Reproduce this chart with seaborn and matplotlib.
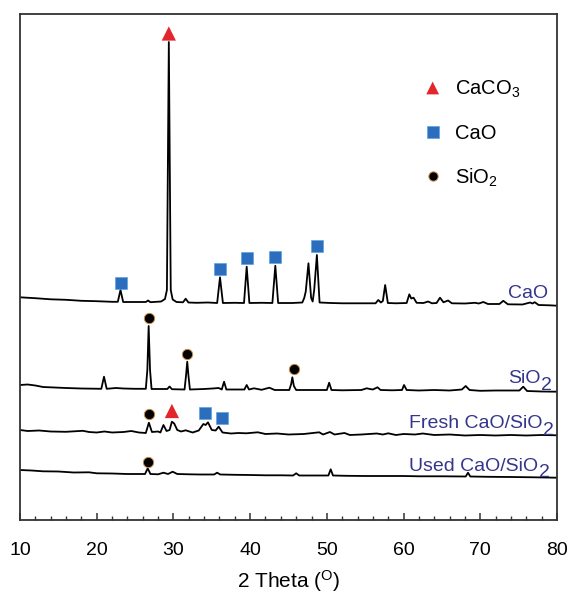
import matplotlib
matplotlib.use("Agg")
import matplotlib.pyplot as plt
from matplotlib.ticker import MultipleLocator
import seaborn as sns

# ---------------- data (2 theta in degrees, intensity in a.u.) ----------------
cao_x = [10, 12, 14, 16, 18, 20, 22, 22.75, 23.1, 23.45, 25, 26.4, 26.7, 27.0, 28.4, 28.9,
         29.15, 29.4, 29.65, 29.9, 30.4, 31.25, 31.6, 31.95, 33, 34.5, 35.7, 36.07, 36.45, 38,
         39.2, 39.55, 39.9, 41.5, 42.9, 43.28, 43.65, 45.5, 46.8, 47.05, 47.25, 47.6, 47.95,
         48.15, 48.35, 48.7, 49.05, 50.5, 52, 54, 56.35, 56.7, 57.05, 57.3, 57.6, 57.95, 59,
         60.4, 60.75, 61.0, 61.3, 61.7, 62.6, 63.2, 63.7, 64.3, 64.75, 65.2, 65.8, 66.3, 68,
         69.3, 69.8, 70.4, 71.0, 72.5, 73.0, 73.6, 75.5, 76.5, 76.8, 77.1, 77.6, 79, 80]
cao_y = [222.7, 221.8, 220.7, 220.2, 219.2, 218.8, 218.2, 218.2, 230, 218, 218, 218, 219.5, 217.8,
         218.5, 221, 230, 478, 230, 220.5, 218, 217.7, 221.3, 217.5, 217.2, 217.5, 217, 242.7, 217,
         217.2, 217, 253.3, 217, 217.2, 217, 254.3, 217, 217, 217.5, 222, 228.5, 256.7, 222,
         218.5, 230, 265, 217.5, 217, 216.7, 216.7, 216.7, 220, 217.5, 219, 235, 217, 216.7,
         217, 225.7, 221.5, 222.3, 217.2, 217, 218.5, 216.7, 217, 222.3, 217.7, 219.5, 216.7,
         216.5, 217.2, 216.5, 218, 216, 216, 219.2, 215.7, 215.5, 217.5, 216.5, 217.8, 215,
         214.7, 214.3]

sio2_x = [10, 11, 12, 13, 14.5, 16, 18, 20.6, 20.95, 21.3, 22.5, 23.5, 25, 26.4, 26.6, 26.77,
          26.95, 27.15, 28, 29.2, 29.5, 29.8, 31.45, 31.65, 31.8, 31.95, 32.15, 34, 35.1, 35.9,
          36.3, 36.6, 36.9, 38, 39.25, 39.55, 39.85, 40.5, 41.5, 42.5, 43.2, 45.1, 45.35, 45.5,
          45.7, 46.0, 48, 50.0, 50.3, 50.6, 52, 54.5, 55.2, 55.6, 56.0, 56.6, 57.0, 58.5, 59.8,
          60.06, 60.4, 62, 64, 66, 67.6, 68.1, 68.6, 70, 72, 75.1, 75.6, 76.1, 78, 80]
sio2_y = [135, 135.5, 134.5, 133, 132.5, 132, 131.5, 131.2, 143.3, 131.2, 132, 131.5, 131.2,
          131.2, 150, 194, 150, 131, 131, 131, 133.5, 130.8, 130.5, 145, 158.3, 145, 130.5, 131,
          131.5, 132, 130.5, 138.3, 130.5, 130.5, 130.5, 135, 130.5, 131.7, 130.2, 132.3, 130,
          130, 136, 142.7, 134, 130, 130, 130, 137.3, 130, 129.7, 130, 131.7, 131, 130.5, 132.7,
          130, 129.7, 130, 135, 130, 129.5, 130, 129.5, 130.5, 134, 130, 129.2, 129.5, 129.5,
          133.3, 129, 128.5, 128.3]

fresh_x = [10, 11, 12.5, 14, 16, 18.2, 19, 20, 21, 22, 23.5, 24.5, 25.5, 26.4, 26.8, 27.2, 28.0,
           28.3, 28.7, 29.1, 29.5, 29.8, 30.1, 30.5, 31, 31.6, 32.5, 33.3, 33.9, 34.2, 34.5, 35.0,
           35.5, 35.9, 36.4, 37.5, 38.5, 39.5, 41, 42, 43.5, 45, 47, 49.0, 49.5, 50.4, 51, 52.3,
           53, 54.5, 56.5, 57.3, 58, 59, 60, 61.5, 62.5, 64, 66, 68, 70, 72, 74, 76, 78, 80]
fresh_y = [90, 89, 89.5, 88.5, 88.2, 89.2, 88, 87.5, 88.5, 87.5, 88, 89, 87.5, 87, 97.3, 88,
           88.5, 87.5, 95, 89, 90, 98.3, 96.5, 90, 88.5, 89.7, 87.5, 89.5, 96, 95, 97.7, 90,
           89.5, 93.3, 87.5, 86.5, 87, 86.7, 87.7, 86, 86.5, 85.5, 86, 87.7, 85.5, 88, 85.5, 87,
           85, 85.5, 86.5, 85.5, 86.7, 85, 86, 85.5, 86.5, 85, 85.5, 84.5, 85, 84.5, 85, 84.5,
           85, 84.7]

used_x = [10, 11.5, 13, 15, 17, 19, 20, 22, 24, 26.3, 26.65, 27.0, 28.0, 28.7, 29.3, 29.9, 30.5,
          32, 33.5, 35.3, 35.7, 36.1, 38, 40, 42, 44, 45.6, 46.0, 46.4, 48, 50.2, 50.5, 50.8,
          52.5, 55, 58, 60, 62, 65, 68.1, 68.4, 68.7, 71, 74, 77, 80]
used_y = [50, 49.5, 48.7, 48.5, 47.5, 47.7, 46.7, 46.5, 46, 46, 51.7, 46, 45.7, 47.3, 46, 48.3,
          46, 45.7, 45.5, 45.5, 47.3, 45.5, 45.2, 45, 44.7, 44.7, 44.5, 46.7, 44.5, 44.5, 44.5,
          50.7, 44.5, 44.2, 44, 44, 44, 43.7, 43.7, 43.5, 47.3, 43.5, 43.2, 43, 42.7, 42.3]

# phase markers (position, height)
caco3_x = [29.4, 29.8]
caco3_y = [486.5, 109]
cao_mx = [23.13, 36.07, 39.55, 43.2, 48.7, 34.12, 36.3]
cao_my = [237.5, 251, 261.7, 263.3, 274.3, 106.7, 102.3]
sio2_mx = [26.77, 31.81, 45.72, 26.82, 26.65]
sio2_my = [201.7, 165.7, 151, 105.7, 58.3]

# sample labels: main text + trailing (large) subscript
sample_main = ["CaO", "SiO", "Fresh CaO/SiO", "Used CaO/SiO"]
sample_sub = ["", "2", "2", "2"]
label_x = [73.62, 73.66, 60.75, 60.75]
label_y = [221.7, 136.7, 91.7, 49.3]
legend_labels = [r"CaCO$_3$", "CaO", r"SiO$_2$"]
xticks = [10, 20, 30, 40, 50, 60, 70, 80]

# ---------------- style ----------------
sns.set_theme(style="white")
plt.rcParams["font.family"] = ["Liberation Sans", "DejaVu Sans"]
plt.rcParams["mathtext.fontset"] = "custom"
plt.rcParams["mathtext.rm"] = "Liberation Sans"
plt.rcParams["mathtext.it"] = "Liberation Sans:italic"
plt.rcParams["mathtext.default"] = "regular"
plt.rcParams["text.color"] = "black"
plt.rcParams["axes.labelcolor"] = "black"
plt.rcParams["legend.labelcolor"] = "black"

fig = plt.figure(figsize=(5.69, 5.96), dpi=100)
ax = fig.add_axes([20 / 569, 76 / 596, 537 / 569, 506 / 596])

for xs, ys in [(cao_x, cao_y), (sio2_x, sio2_y), (fresh_x, fresh_y), (used_x, used_y)]:
    sns.lineplot(x=xs, y=ys, sort=False, estimator=None, color="black",
                 linewidth=1.3, ax=ax)

h1 = sns.scatterplot(x=caco3_x, y=caco3_y, marker="^", s=105, color="#e3262b",
                     edgecolor="none", ax=ax, zorder=5).collections[-1]
h2 = sns.scatterplot(x=cao_mx, y=cao_my, marker="s", s=78, color="#2d6dbd",
                     edgecolor="#4aa0e0", linewidth=0.4, ax=ax, zorder=5).collections[-1]
h3 = sns.scatterplot(x=sio2_mx, y=sio2_my, marker="o", s=55, color="black",
                     edgecolor="#c88a48", linewidth=0.7, ax=ax, zorder=5).collections[-1]

label_color = "#35358c"
for m, sub, x, y in zip(sample_main, sample_sub, label_x, label_y):
    t = ax.text(x, y, m, ha="left", va="baseline", fontsize=14, color=label_color)
    if sub:
        ax.annotate(sub, xy=(1, 0), xycoords=t, xytext=(0.3, -2.0),
                    textcoords="offset points", ha="left", va="baseline",
                    fontsize=14, color=label_color)

leg = ax.legend(handles=[h1, h2, h3], labels=legend_labels, loc="upper left",
                bbox_to_anchor=(0.7497, 0.8715), frameon=False, fontsize=14.5,
                handlelength=1.0, handletextpad=0.62, labelspacing=1.17,
                borderpad=0, borderaxespad=0, scatteryoffsets=[0.5], markerscale=0.9)

ax.set_xlim(10, 80)
ax.set_ylim(0, 506)
ax.set_xticks(xticks)
ax.xaxis.set_minor_locator(MultipleLocator(2))
ax.set_yticks([])
ax.tick_params(axis="x", which="major", direction="in", length=5, width=1.1,
               color="#333333", labelcolor="black", labelsize=14, pad=15.5,
               bottom=True, top=False)
ax.tick_params(axis="x", which="minor", direction="in", length=2.8, width=1.0,
               color="#333333", bottom=True, top=False)
for sp in ax.spines.values():
    sp.set_color("#333333")
    sp.set_linewidth(1.3)
    sp.set_visible(True)
ax.set_xlabel(r"2 Theta ($^{O}$)", fontsize=15, labelpad=7, color="black")
ax.set_ylabel("")

fig.savefig("out.png", dpi=100)
